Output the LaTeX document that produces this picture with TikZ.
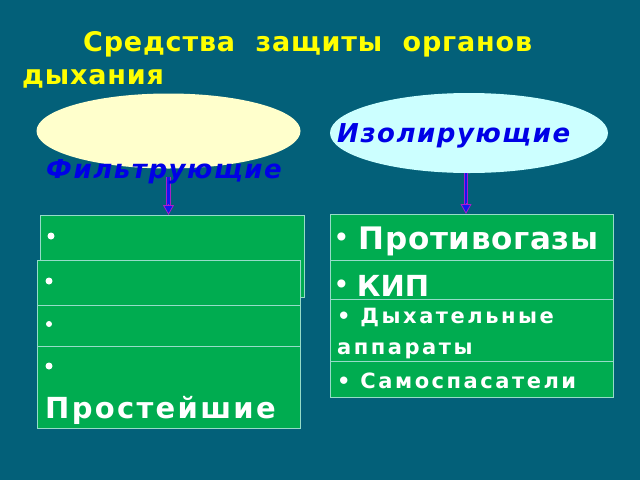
\documentclass[tikz,border=0pt]{standalone}
\usepackage{fontspec}
\setmainfont{DejaVu Sans}
\usetikzlibrary{arrows.meta,shapes.geometric}
\definecolor{bg}{RGB}{3,96,121}
\definecolor{boxgreen}{RGB}{0,172,80}
\definecolor{boxline}{RGB}{150,220,200}
\definecolor{ttl}{RGB}{255,255,0}
\definecolor{ellY}{RGB}{255,255,204}
\definecolor{ellC}{RGB}{204,255,255}
\definecolor{lbl}{RGB}{0,0,230}
\definecolor{arrin}{RGB}{20,20,240}
\definecolor{arrout}{RGB}{170,30,200}
\newcommand{\smallbul}{\raisebox{3.5pt}{\fontsize{23}{23}\selectfont\addfontfeature{LetterSpace=0}•}}
\tikzset{
  greenbox/.style={draw=boxline, line width=1pt, fill=boxgreen, inner sep=0pt, outer sep=0pt, anchor=north west},
  ttltext/.style={text=ttl, font=\bfseries\fontsize{27}{30}\selectfont\addfontfeature{LetterSpace=3}, inner sep=0pt, anchor=base west},
  elltext/.style={text=lbl, font=\bfseries\itshape\fontsize{26}{30}\selectfont\addfontfeature{LetterSpace=6}, inner sep=0pt, anchor=base west},
  bigtext/.style={text=white, font=\bfseries\fontsize{31}{34}\selectfont\addfontfeature{LetterSpace=2}, inner sep=0pt, anchor=base west},
  smalltext/.style={text=white, font=\bfseries\fontsize{21}{24}\selectfont\addfontfeature{LetterSpace=12}, inner sep=0pt, anchor=base west},
  dot/.style={circle, fill=white, inner sep=0pt, minimum size=7pt},
  ell/.style={ellipse, inner sep=0pt, outer sep=0pt},
  shaftout/.style={arrout, line width=4.6pt},
  shaftin/.style={arrin, line width=2.8pt},
  tipline/.style={arrout, line width=0.8pt, -{Triangle[width=11pt,length=10pt,fill=arrin]}},
}
\begin{document}
\begin{tikzpicture}[x=1pt,y=-1pt]
\fill[bg] (0,0) rectangle (640,480);
\useasboundingbox (0,0) rectangle (640,480);
% title
\node[ttltext] (t1) at (83,51) {Средства\ \ защиты\ \ органов};
\node[ttltext] (t2) at (22,84) {дыхания};
% ellipses
\node[ell, fill=ellY, minimum width=264pt, minimum height=75pt] (Le) at (168.5,131) {};
\node[ell, fill=ellC, minimum width=278pt, minimum height=80pt] (Re) at (469,133) {};
% left boxes
\node[greenbox, minimum width=264pt, minimum height=82pt] (L1) at (40,215) {};
\node[greenbox, minimum width=263pt, minimum height=45pt] (L2) at (37,260) {};
\node[greenbox, minimum width=263pt, minimum height=41pt] (L3) at (37,305) {};
\node[greenbox, minimum width=263pt, minimum height=82pt] (L4) at (37,346) {};
\node[dot] (d1) at (51,236) {};
\node[dot] (d2) at (49,281) {};
\node[dot, minimum size=6pt] (d3) at (49,324) {};
\node[dot] (d4) at (49,366) {};
\node[bigtext, font=\bfseries\fontsize{29}{32}\selectfont\addfontfeature{LetterSpace=8}] (p4) at (45,418) {Простейшие};
% right boxes
\node[greenbox, minimum width=283pt, minimum height=46pt] (R1) at (330,214) {};
\node[greenbox, minimum width=283pt, minimum height=39pt] (R2) at (330,260) {};
\node[greenbox, minimum width=283pt, minimum height=62pt] (R3) at (330,299) {};
\node[greenbox, minimum width=283pt, minimum height=36pt] (R4) at (330,361) {};
\node[bigtext] (r1) at (334,249) {\smallbul\hspace{10pt}Противогазы};
\node[bigtext, font=\bfseries\fontsize{29}{32}\selectfont] (r2) at (334,296) {\smallbul\hspace{8pt}КИП};
\node[smalltext] (r3) at (337,323) {• Дыхательные};
\node[smalltext] (r3b) at (337,354) {аппараты};
\node[smalltext] (r4) at (337,388) {• Самоспасатели};
% arrows
\coordinate (La) at ([yshift=-8pt]Le.south);
\coordinate (Lb) at (Le.south |- L1.north);
\draw[shaftout] (La) -- ([yshift=9pt]Lb);
\draw[shaftin] (La) -- ([yshift=9pt]Lb);
\draw[tipline] ([yshift=11pt]Lb) -- (Lb);
\coordinate (Ra) at ([xshift=-3pt]Re.south);
\coordinate (Rb) at (Ra |- R1.north);
\draw[shaftout] (Ra) -- ([yshift=9pt]Rb);
\draw[shaftin] (Ra) -- ([yshift=9pt]Rb);
\draw[tipline] ([yshift=11pt]Rb) -- (Rb);
% ellipse labels
\node[elltext] (Lt) at (46,178) {Фильтрующие};
\node[elltext] (Rt) at (337,142) {Изолирующие};
\end{tikzpicture}
\end{document}
